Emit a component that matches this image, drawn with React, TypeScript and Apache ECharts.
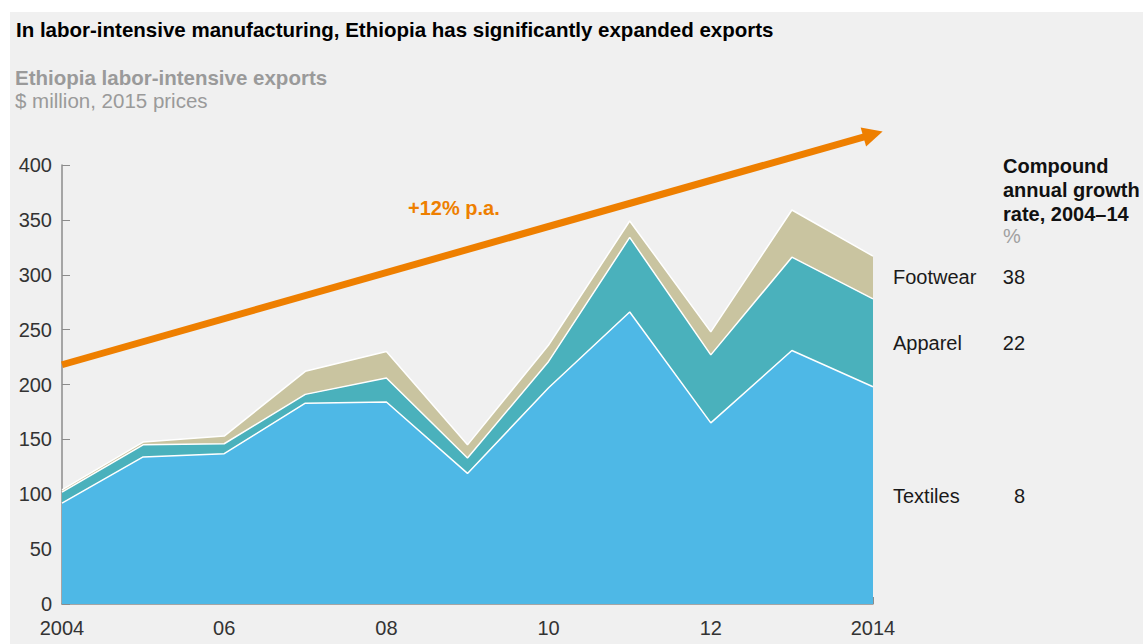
import React, { useEffect, useRef } from "react";
import * as echarts from "echarts";

const years = ["2004", "2005", "2006", "2007", "2008", "2009", "2010", "2011", "2012", "2013", "2014"];
const xTickLabels = ["2004", "", "06", "", "08", "", "10", "", "12", "", "2014"];
const textiles = [92, 134, 137, 183, 184, 119, 197, 266, 165, 231, 198];
const apparel = [10, 11, 9, 8, 22, 14, 24, 68, 62, 85, 80];
const footwear = [2, 2.5, 7, 21, 24, 12, 15, 15, 21, 43, 39];
const trendStart = 218;
const trendEnd = 428;
const trendLabel = "+12% p.a.";
const cagrNames = ["Footwear", "Apparel", "Textiles"];
const cagrValues = ["38", "22", "8"];

const FONT = "'Liberation Sans', Arial, sans-serif";

export default function App() {
  const ref = useRef<HTMLDivElement>(null);
  useEffect(() => {
    if (!ref.current) return;
    const chart = echarts.init(ref.current, null, { renderer: "svg" });
    const white = { color: "#ffffff", width: 1.5 };
    chart.setOption({
      animation: false,
      backgroundColor: "transparent",
      textStyle: { fontFamily: FONT },
      grid: { left: 62, right: 270, top: 165, bottom: 40, containLabel: false },
      xAxis: {
        type: "category",
        data: years,
        boundaryGap: false,
        axisLine: { lineStyle: { color: "#8c8c8c", width: 1.5 } },
        axisTick: { inside: true, length: 7, interval: 0, lineStyle: { color: "#8c8c8c" } },
        axisLabel: {
          interval: 0,
          margin: 14,
          fontSize: 20,
          color: "#333333",
          fontFamily: FONT,
          formatter: (_v: string, i: number) => xTickLabels[i],
        },
        splitLine: { show: false },
      },
      yAxis: {
        type: "value",
        min: 0,
        max: 400,
        interval: 50,
        axisLine: { show: true, lineStyle: { color: "#8c8c8c", width: 1.5 } },
        axisTick: { show: true, inside: true, length: 8, lineStyle: { color: "#8c8c8c" } },
        axisLabel: { fontSize: 20, color: "#333333", margin: 10, fontFamily: FONT },
        splitLine: { show: false },
      },
      series: [
        {
          name: "Textiles",
          type: "line",
          stack: "total",
          data: textiles,
          symbol: "none",
          lineStyle: white,
          areaStyle: { color: "#4eb8e6", opacity: 1 },
          z: 2,
        },
        {
          name: "Apparel",
          type: "line",
          stack: "total",
          data: apparel,
          symbol: "none",
          lineStyle: white,
          areaStyle: { color: "#4ab1bc", opacity: 1 },
          z: 2,
        },
        {
          name: "Footwear",
          type: "line",
          stack: "total",
          data: footwear,
          symbol: "none",
          lineStyle: white,
          areaStyle: { color: "#c9c4a0", opacity: 1 },
          z: 2,
        },
        {
          name: "Trend",
          type: "lines",
          coordinateSystem: "cartesian2d",
          clip: false,
          symbol: ["none", "triangle"],
          symbolSize: [20, 20],
          lineStyle: { color: "#ee7f00", width: 7, opacity: 1, curveness: 0 },
          data: [{ coords: [[0, trendStart], [years.length - 1, trendEnd]] }],
          z: 5,
          silent: true,
        },
      ],
      graphic: [
        {
          type: "text",
          left: 16,
          top: 19,
          style: {
            text: "In labor-intensive manufacturing, Ethiopia has significantly expanded exports",
            font: `bold 20.5px ${FONT}`,
            fill: "#000000",
          },
        },
        {
          type: "text",
          left: 15,
          top: 67,
          style: { text: "Ethiopia labor-intensive exports", font: `bold 20.5px ${FONT}`, fill: "#9a9a9a" },
        },
        {
          type: "text",
          left: 15,
          top: 90,
          style: { text: "$ million, 2015 prices", font: `20.5px ${FONT}`, fill: "#9a9a9a" },
        },
        {
          type: "text",
          left: 408,
          top: 198,
          style: { text: trendLabel, font: `bold 20px ${FONT}`, fill: "#ee7f00" },
        },
        {
          type: "text",
          left: 1003,
          top: 154,
          style: { text: "Compound\nannual growth\nrate, 2004–14", font: `bold 20px ${FONT}`, fill: "#111111", lineHeight: 24 },
        },
        {
          type: "text",
          left: 1003,
          top: 226,
          style: { text: "%", font: `20px ${FONT}`, fill: "#a0a0a0" },
        },
        ...cagrNames.map((n, i) => ({
          type: "text",
          left: 893,
          top: [267, 333, 486][i],
          style: { text: n, font: `20px ${FONT}`, fill: "#1a1a1a" },
        })),
        ...cagrValues.map((v, i) => ({
          type: "text",
          right: 1143 - 1025,
          top: [267, 333, 486][i],
          style: { text: v, font: `20px ${FONT}`, fill: "#1a1a1a", align: "right" },
        })),
      ],
    });
    return () => chart.dispose();
  }, []);
  return (
    <div style={{ position: "fixed", left: 0, top: 0, width: 1143, height: 644, background: "#ffffff" }}>
      <div style={{ position: "absolute", left: 10, top: 12, right: 0, bottom: 0, background: "#f0f0f0" }} />
      <div ref={ref} style={{ position: "absolute", left: 0, top: 0, width: 1143, height: 644 }} />
    </div>
  );
}
